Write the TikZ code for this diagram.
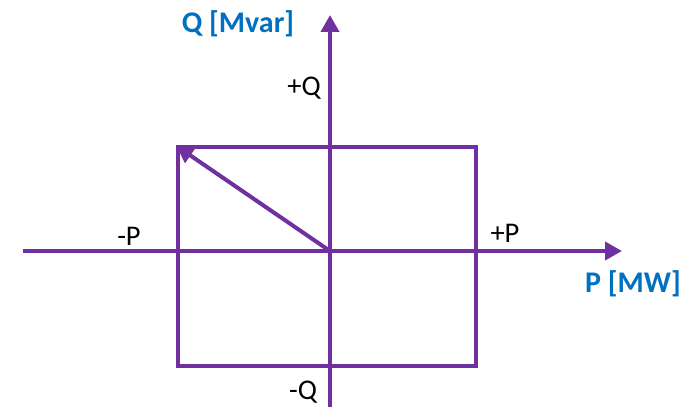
\documentclass[tikz,border=0pt]{standalone}
\usepackage{fontspec}
\setmainfont{Carlito}
\usetikzlibrary{arrows.meta}

\definecolor{axispurple}{HTML}{7030A0}
\definecolor{labelblue}{HTML}{0070C0}

\tikzset{
  axisline/.style={line width=4pt, axispurple, -{Triangle[length=17pt,width=18pt]}},
  boxline/.style={line width=4pt, axispurple},
  unitlabel/.style={labelblue, font=\fontsize{30}{35}\selectfont\bfseries},
  signlabel/.style={black, font=\fontsize{28.5}{33}\selectfont, inner sep=1pt}
}

\begin{document}
\begin{tikzpicture}[x=1pt, y=1pt]

  % page frame, 694 x 407
  \useasboundingbox (-330,-156) rectangle (364,251);

  % origin and ends of the axes
  \coordinate (O) at (0,0);
  \coordinate (Pleft) at (-307,0);
  \coordinate (Pright) at (292,0);
  \coordinate (Qdown) at (0,-158);
  \coordinate (Qup) at (0,236);

  % corners of the operating box
  \coordinate (BL) at (-152,-115);
  \coordinate (TR) at (146,104);
  \coordinate (TL) at (-152,104);

  % operating box
  \draw[boxline] (BL) rectangle (TR);

  % axes
  \draw[axisline] (Pleft) -- (Pright);
  \draw[axisline] (Qdown) -- (Qup);

  % operating point
  \draw[axisline, shorten >=-2pt] (O) -- (TL);

  % axis names
  \node[unitlabel] (qname) at (-92,227) {Q [Mvar]};
  \node[unitlabel] (pname) at (303,-33) {P [MW]};

  % signs
  \node[signlabel] (qplus) at (-26,163) {+Q};
  \node[signlabel] (qminus) at (-27,-141) {-Q};
  \node[signlabel] (pminus) at (-201,15) {-P};
  \node[signlabel] (pplus) at (175,18) {+P};

\end{tikzpicture}
\end{document}
